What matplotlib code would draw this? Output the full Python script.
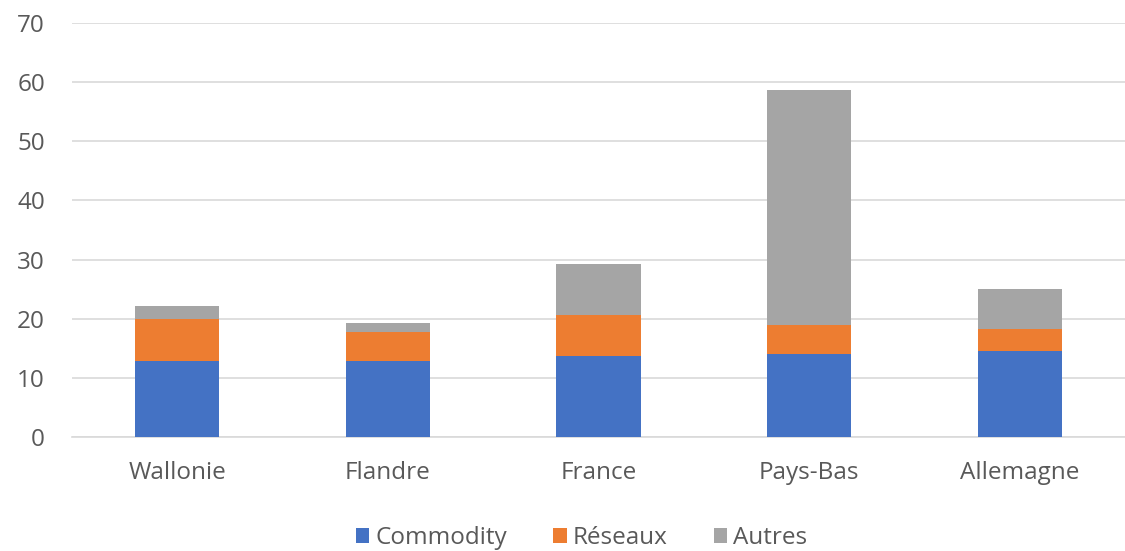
import matplotlib
matplotlib.use("Agg")
import matplotlib.pyplot as plt
import numpy as np

categories = ["Wallonie", "Flandre", "France", "Pays-Bas", "Allemagne"]
commodity = [12.9, 12.9, 13.7, 14.0, 14.5]
reseaux = [7.0, 4.9, 6.9, 5.0, 3.7]
autres = [2.3, 1.5, 8.6, 39.7, 6.9]
series_names = ["Commodity", "Réseaux", "Autres"]
colors = ["#4472C4", "#ED7D31", "#A5A5A5"]

plt.rcParams['font.family'] = ['Open Sans', 'DejaVu Sans']

fig = plt.figure(figsize=(11.25, 5.51), dpi=100)
ax = fig.add_axes([72/1125, 1 - 437/551, (1125 - 72)/1125, (437 - 23)/551])

x = np.arange(len(categories))
bottom = np.zeros(len(categories))
for name, vals, c in zip(series_names, [commodity, reseaux, autres], colors):
    ax.bar(x, vals, 0.4, bottom=bottom, color=c, label=name, zorder=3)
    bottom += np.array(vals)

ax.set_xlim(-0.5, len(categories) - 0.5)
ax.set_ylim(0, 70)
ax.set_yticks(range(0, 71, 10))
ax.set_xticks(x)
ax.set_xticklabels(categories)
ax.grid(axis='y', color='#D9D9D9', linewidth=1.2, zorder=0)
for s in ['top', 'right', 'left']:
    ax.spines[s].set_visible(False)
ax.spines['bottom'].set_color('#D9D9D9')
ax.spines['bottom'].set_linewidth(1.2)
ax.tick_params(axis='both', length=0, labelsize=17.5, labelcolor='#595959')
ax.tick_params(axis='x', pad=17)
ax.tick_params(axis='y', pad=19.5)

leg = fig.legend(loc='center', bbox_to_anchor=(0.517, (551 - 538)/551), ncol=3,
                 frameon=False, fontsize=17.5, handlelength=0.55, handleheight=0.55,
                 handletextpad=0.25, columnspacing=1.9)
for t in leg.get_texts():
    t.set_color('#595959')

fig.savefig("out.png", dpi=100)
